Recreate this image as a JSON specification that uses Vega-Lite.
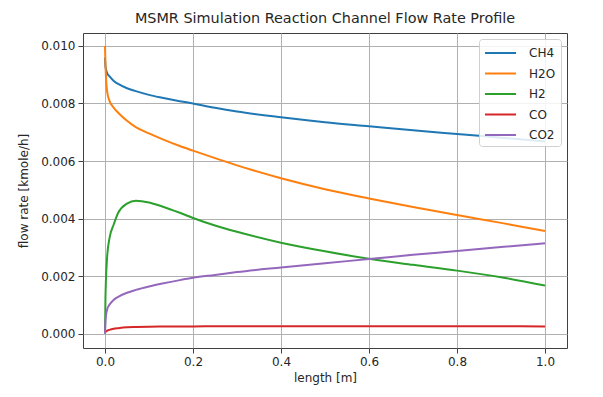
{
  "$schema": "https://vega.github.io/schema/vega-lite/v6.json",
  "width": 484,
  "height": 315,
  "autosize": {"type": "none"},
  "padding": {"left": 83, "top": 33, "right": 36, "bottom": 49},
  "background": "white",
  "title": {"text": "MSMR Simulation Reaction Channel Flow Rate Profile", "font": "DejaVu Sans", "fontSize": 14.4, "fontWeight": "normal", "color": "#262626", "offset": 7},
  "data": {"values": [
    {"length": 0.0, "CH4": 0.0096, "H2O": 0.0100, "H2": 0.0, "CO": 0.00003, "CO2": 0.0},
    {"length": 0.001, "CH4": 0.0093, "H2O": 0.0094, "H2": 0.0012, "CO": 0.00005, "CO2": 0.0004},
    {"length": 0.002, "CH4": 0.0092, "H2O": 0.0090, "H2": 0.0018, "CO": 0.00007, "CO2": 0.0006},
    {"length": 0.005, "CH4": 0.00905, "H2O": 0.0084, "H2": 0.0027, "CO": 0.0001, "CO2": 0.00085},
    {"length": 0.01, "CH4": 0.00895, "H2O": 0.0081, "H2": 0.0033, "CO": 0.00013, "CO2": 0.0010},
    {"length": 0.02, "CH4": 0.00878, "H2O": 0.00785, "H2": 0.0038, "CO": 0.00017, "CO2": 0.00118},
    {"length": 0.03, "CH4": 0.00868, "H2O": 0.00768, "H2": 0.0042, "CO": 0.00019, "CO2": 0.00128},
    {"length": 0.05, "CH4": 0.00853, "H2O": 0.0074, "H2": 0.00452, "CO": 0.00022, "CO2": 0.00142},
    {"length": 0.07, "CH4": 0.00843, "H2O": 0.00718, "H2": 0.00462, "CO": 0.00023, "CO2": 0.00152},
    {"length": 0.1, "CH4": 0.0083, "H2O": 0.00696, "H2": 0.00456, "CO": 0.00024, "CO2": 0.00164},
    {"length": 0.13, "CH4": 0.0082, "H2O": 0.00676, "H2": 0.00442, "CO": 0.000245, "CO2": 0.00174},
    {"length": 0.17, "CH4": 0.00808, "H2O": 0.00652, "H2": 0.0042, "CO": 0.00025, "CO2": 0.00186},
    {"length": 0.2, "CH4": 0.008, "H2O": 0.00636, "H2": 0.00402, "CO": 0.00025, "CO2": 0.00194},
    {"length": 0.25, "CH4": 0.00785, "H2O": 0.0061, "H2": 0.00376, "CO": 0.000255, "CO2": 0.00204},
    {"length": 0.3, "CH4": 0.00772, "H2O": 0.00585, "H2": 0.00354, "CO": 0.00026, "CO2": 0.00214},
    {"length": 0.4, "CH4": 0.00752, "H2O": 0.0054, "H2": 0.00316, "CO": 0.00026, "CO2": 0.0023},
    {"length": 0.5, "CH4": 0.00735, "H2O": 0.00502, "H2": 0.00286, "CO": 0.00026, "CO2": 0.00245},
    {"length": 0.6, "CH4": 0.00721, "H2O": 0.0047, "H2": 0.0026, "CO": 0.00026, "CO2": 0.00259},
    {"length": 0.7, "CH4": 0.00707, "H2O": 0.0044, "H2": 0.00239, "CO": 0.00026, "CO2": 0.00274},
    {"length": 0.8, "CH4": 0.00694, "H2O": 0.00412, "H2": 0.00219, "CO": 0.000255, "CO2": 0.00287},
    {"length": 0.9, "CH4": 0.00681, "H2O": 0.00385, "H2": 0.00196, "CO": 0.000255, "CO2": 0.00301},
    {"length": 1.0, "CH4": 0.00668, "H2O": 0.00357, "H2": 0.00167, "CO": 0.00025, "CO2": 0.00314}
  ]},
  "transform": [{"fold": ["CH4", "H2O", "H2", "CO", "CO2"], "as": ["species", "rate"]}],
  "mark": {"type": "line", "strokeWidth": 2, "interpolate": "monotone"},
  "encoding": {
    "x": {"field": "length", "type": "quantitative",
      "scale": {"domain": [-0.05, 1.05], "nice": false, "zero": false},
      "axis": {"title": "length [m]", "values": [0, 0.2, 0.4, 0.6, 0.8, 1.0], "format": ".1f"}},
    "y": {"field": "rate", "type": "quantitative",
      "scale": {"domain": [-0.0005, 0.01045], "nice": false, "zero": false},
      "axis": {"title": "flow rate [kmole/h]", "values": [0, 0.002, 0.004, 0.006, 0.008, 0.010], "format": ".3f"}},
    "color": {"field": "species", "type": "nominal",
      "scale": {"domain": ["CH4", "H2O", "H2", "CO", "CO2"], "range": ["#1f77b4", "#ff7f0e", "#2ca02c", "#d62728", "#9467bd"]},
      "legend": {"title": null, "orient": "top-right", "offset": 6, "padding": 5,
        "fillColor": "rgba(255,255,255,0.85)", "strokeColor": "#d0d0d0", "cornerRadius": 3,
        "symbolType": "M-1,0H2.875", "symbolSize": 256, "symbolStrokeWidth": 2, "symbolOpacity": 1,
        "labelFont": "DejaVu Sans", "labelFontSize": 12, "labelColor": "#262626", "labelOffset": 27,
        "rowPadding": 5.5, "labelLimit": 200}}
  },
  "config": {
    "font": "DejaVu Sans",
    "view": {"stroke": "#404040", "strokeWidth": 1},
    "axis": {
      "domain": false,
      "grid": true, "gridColor": "#b0b0b0", "gridWidth": 1, "gridOpacity": 1,
      "tickColor": "#404040", "tickSize": 5, "tickWidth": 1,
      "labelFont": "DejaVu Sans", "labelFontSize": 12, "labelColor": "#262626", "labelPadding": 3,
      "titleFont": "DejaVu Sans", "titleFontSize": 12, "titleFontWeight": "normal", "titleColor": "#262626"
    },
    "axisX": {"titlePadding": 5},
    "axisY": {"titlePadding": 10}
  }
}
